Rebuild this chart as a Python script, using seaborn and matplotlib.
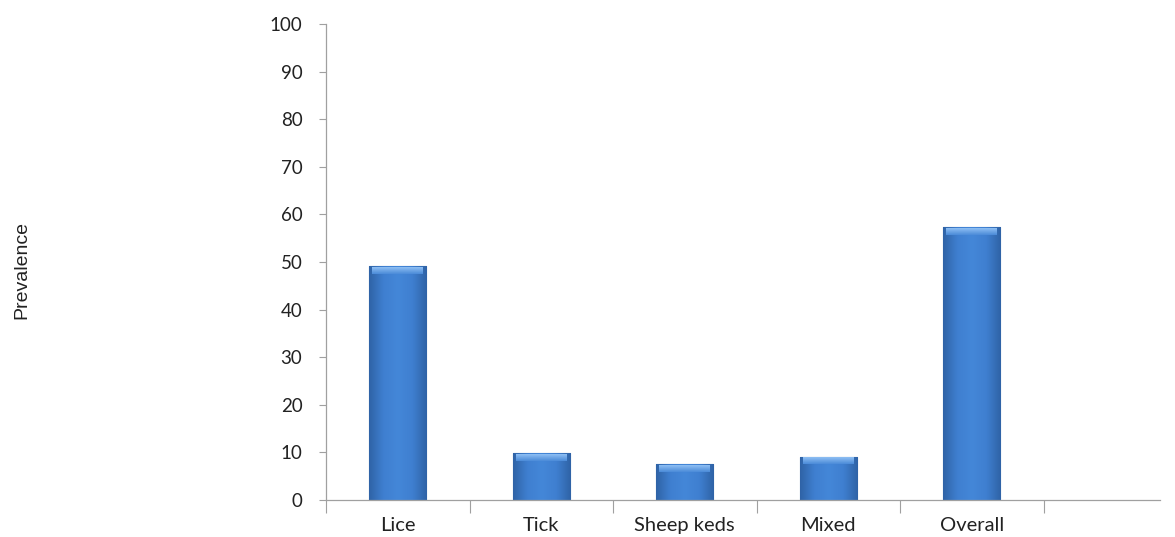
import matplotlib
matplotlib.use("Agg")
import matplotlib.pyplot as plt
import numpy as np
import pandas as pd
import seaborn as sns
from matplotlib.colors import LinearSegmentedColormap

categories = ["Lice", "Tick", "Sheep keds", "Mixed", "Overall"]
prevalence = [49.1, 9.8, 7.5, 9.1, 57.3]
y_ticks = [0, 10, 20, 30, 40, 50, 60, 70, 80, 90, 100]
y_label = "Prevalence"

df = pd.DataFrame({"category": categories, "prevalence": prevalence})

sns.set_theme(style="white")
plt.rcParams["font.family"] = ["Lato", "DejaVu Sans"]

fig = plt.figure(figsize=(11.75, 5.37), dpi=100)
ax = fig.add_axes([326 / 1175, 1 - 500 / 537, (1160 - 326) / 1175, (500 - 24) / 537])

sns.barplot(data=df, x="category", y="prevalence", color="#3d7ccc", width=0.4,
            ax=ax, edgecolor="#2c5e9c", linewidth=0.8, saturation=1)

# horizontal shading on each bar (Excel-like gradient)
cmap = LinearSegmentedColormap.from_list("bar", ["#2f63a6", "#3f7fd0", "#4487d8", "#3f7fd0", "#2f63a6"])
grad = np.linspace(0, 1, 256).reshape(1, -1)
vgrad = np.linspace(0, 1, 64).reshape(-1, 1)
bevel_cmap = LinearSegmentedColormap.from_list("bev", ["#8fc0f4", "#4a8ad8"])
for p in list(ax.patches):
    x0, y0 = p.get_x(), p.get_y()
    w, h = p.get_width(), p.get_height()
    im = ax.imshow(grad, extent=[x0, x0 + w, y0, y0 + h], aspect="auto", cmap=cmap,
                   zorder=p.get_zorder() + 0.1, interpolation="bicubic")
    im.set_clip_path(p)
    # light bevel along the top
    bv = ax.imshow(vgrad, extent=[x0 + w * 0.06, x0 + w * 0.94, y0 + h - 1.6, y0 + h - 0.15],
                   aspect="auto", cmap=bevel_cmap, zorder=p.get_zorder() + 0.2,
                   interpolation="bicubic", origin="upper")
    bv.set_clip_path(p)

ax.set_xlim(-0.5, -0.5 + (1160 - 326) / 143.5)
ax.set_ylim(0, 100)
ax.set_yticks(y_ticks)
ax.set_yticklabels([str(v) for v in y_ticks], fontsize=13.5, color="#222222")

# category boundaries as major ticks, labels at centers via minor ticks
ax.set_xticks(np.arange(len(categories) + 1) - 0.5)
ax.set_xticklabels([])
ax.set_xticks(np.arange(len(categories)), minor=True)
ax.set_xticklabels(categories, minor=True, fontsize=14.5, color="#222222")
ax.tick_params(axis="x", which="major", direction="out", length=9, width=0.8, color="#a0a0a0", bottom=True)
ax.tick_params(axis="x", which="minor", length=0, pad=12)
ax.tick_params(axis="y", direction="out", length=5, width=0.8, color="#a0a0a0", left=True, pad=12)

ax.set_xlabel("")
ax.set_ylabel("")
for s in ["top", "right"]:
    ax.spines[s].set_visible(False)
for s in ["left", "bottom"]:
    ax.spines[s].set_color("#a0a0a0")
    ax.spines[s].set_linewidth(0.9)

fig.text(22 / 1175, 1 - 270 / 537, y_label, rotation=90, ha="center", va="center",
         fontsize=14, family=["Liberation Sans", "DejaVu Sans"], color="#222222")

fig.savefig("out.png", dpi=100, facecolor="white")
